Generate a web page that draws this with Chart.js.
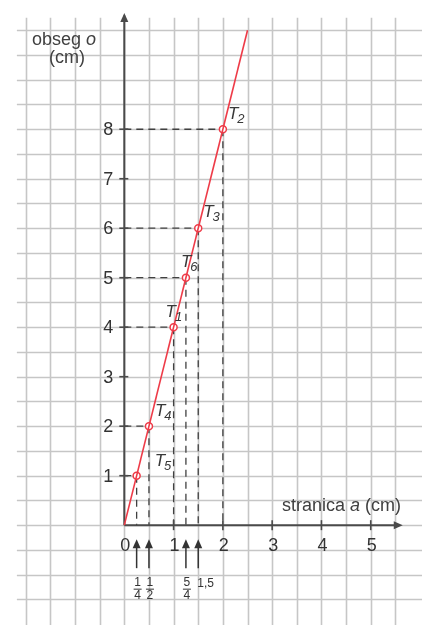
<!DOCTYPE html>
<html>
<head>
<meta charset="utf-8">
<script src="https://cdn.jsdelivr.net/npm/chart.js@4/dist/chart.umd.min.js"></script>
<style>
  html, body { margin: 0; padding: 0; background: #fff; }
  canvas { display: block; }
</style>
</head>
<body>
<canvas id="chart" width="422" height="625"></canvas>
<script>
// data
const sideA = [0.25, 0.5, 1, 1.25, 1.5, 2];
const perimeter = [1, 2, 4, 5, 6, 8];
const pointNames = ['5', '4', '1', '6', '3', '2'];
const lineA = [0, 2.5];
const lineO = [0, 10];
const xTicks = [0, 1, 2, 3, 4, 5];
const yTicks = [1, 2, 3, 4, 5, 6, 7, 8];
const arrowA = [0.25, 0.5, 1.25, 1.5];
const arrowLabels = [['1', '4'], ['1', '2'], ['5', '4'], ['1,5']];

// pixel offsets of the T labels from their points (same order as pointNames)
const labelOffsets = [[18, -10], [6, -10], [-8, -10], [-5, -11], [5, -11], [5, -10]];

const FONT = '"Liberation Sans", Arial, sans-serif';
const GRID = '#c6c6c6';
const AXIS = '#4a4a4a';
const TEXT = '#333333';

function arrowHead(ctx, x, y, dir) {
    // dir: 'up' or 'right'
    ctx.beginPath();
    if (dir === 'up') {
        ctx.moveTo(x, y);
        ctx.lineTo(x - 4, y + 9);
        ctx.lineTo(x + 4, y + 9);
    } else {
        ctx.moveTo(x, y);
        ctx.lineTo(x - 9, y - 4);
        ctx.lineTo(x - 9, y + 4);
    }
    ctx.closePath();
    ctx.fill();
}

const paperPlugin = {
    id: 'paper',
    beforeDatasetsDraw(chart) {
        const ctx = chart.ctx;
        const xs = chart.scales.x;
        const ys = chart.scales.y;
        const px = (v) => xs.getPixelForValue(v);
        const py = (v) => ys.getPixelForValue(v);

        ctx.save();

        // squared paper
        ctx.strokeStyle = GRID;
        ctx.lineWidth = 1.6;
        for (let a = -2; a <= 5.5; a += 0.5) {
            ctx.beginPath();
            ctx.moveTo(Math.round(px(a)) + 0.5, py(10.25));
            ctx.lineTo(Math.round(px(a)) + 0.5, chart.height);
            ctx.stroke();
        }
        for (let o = -1.5; o <= 10; o += 0.5) {
            ctx.beginPath();
            ctx.moveTo(px(-2.18), Math.round(py(o)) + 0.5);
            ctx.lineTo(chart.width, Math.round(py(o)) + 0.5);
            ctx.stroke();
        }

        // dashed guide lines
        ctx.strokeStyle = '#404040';
        ctx.lineWidth = 1.3;
        ctx.setLineDash([7, 5]);
        sideA.forEach((a, i) => {
            const o = perimeter[i];
            ctx.beginPath();
            ctx.moveTo(px(0), py(o));
            ctx.lineTo(px(a), py(o));
            ctx.stroke();
            ctx.beginPath();
            ctx.moveTo(px(a), py(o));
            ctx.lineTo(px(a), py(0));
            ctx.stroke();
        });
        ctx.setLineDash([]);

        // axes
        ctx.strokeStyle = AXIS;
        ctx.fillStyle = AXIS;
        ctx.lineWidth = 2;
        ctx.beginPath();
        ctx.moveTo(px(0), py(0));
        ctx.lineTo(px(0), py(10.3));
        ctx.stroke();
        arrowHead(ctx, px(0), py(10.35), 'up');
        ctx.beginPath();
        ctx.moveTo(px(0), py(0));
        ctx.lineTo(px(5.55), py(0));
        ctx.stroke();
        arrowHead(ctx, px(5.65), py(0), 'right');

        // ticks
        ctx.lineWidth = 1.6;
        yTicks.forEach((o) => {
            ctx.beginPath();
            ctx.moveTo(px(0) - 5, py(o));
            ctx.lineTo(px(0) + 4, py(o));
            ctx.stroke();
        });
        xTicks.slice(1).forEach((a) => {
            ctx.beginPath();
            ctx.moveTo(px(a), py(0) - 5);
            ctx.lineTo(px(a), py(0) + 5);
            ctx.stroke();
        });

        // tick labels
        ctx.fillStyle = TEXT;
        ctx.font = '18px ' + FONT;
        ctx.textAlign = 'right';
        ctx.textBaseline = 'middle';
        yTicks.forEach((o) => ctx.fillText(String(o), px(0) - 11, py(o) + 1));
        ctx.textAlign = 'center';
        ctx.textBaseline = 'top';
        xTicks.forEach((a) => ctx.fillText(String(a), px(a) + 1, py(0) + 12));

        // arrows under the a axis
        ctx.strokeStyle = '#333';
        ctx.fillStyle = '#333';
        ctx.lineWidth = 1.5;
        arrowA.forEach((a, i) => {
            const x = px(a);
            ctx.beginPath();
            ctx.moveTo(x, py(0) + 43);
            ctx.lineTo(x, py(0) + 20);
            ctx.stroke();
            arrowHead(ctx, x, py(0) + 14, 'up');

            const lab = arrowLabels[i];
            ctx.font = '12px ' + FONT;
            ctx.textBaseline = 'alphabetic';
            if (lab.length === 2) {
                ctx.textAlign = 'center';
                ctx.fillText(lab[0], x + 1, py(0) + 61);
                ctx.beginPath();
                ctx.lineWidth = 1;
                ctx.moveTo(x - 3, py(0) + 64);
                ctx.lineTo(x + 5, py(0) + 64);
                ctx.stroke();
                ctx.lineWidth = 1.5;
                ctx.fillText(lab[1], x + 1, py(0) + 74);
            } else {
                ctx.textAlign = 'left';
                ctx.fillText(lab[0], x - 1, py(0) + 62);
            }
        });

        // axis titles
        ctx.fillStyle = '#404040';
        ctx.font = '18px ' + FONT;
        ctx.textAlign = 'left';
        ctx.textBaseline = 'alphabetic';
        ctx.fillText('obseg ', 32, 45);
        let w = ctx.measureText('obseg ').width;
        ctx.font = 'italic 18px ' + FONT;
        ctx.fillText('o', 32 + w, 45);
        ctx.font = '18px ' + FONT;
        ctx.textAlign = 'center';
        ctx.fillText('(cm)', 67, 63);

        ctx.textAlign = 'left';
        ctx.fillText('stranica ', 282, 511);
        w = ctx.measureText('stranica ').width;
        ctx.font = 'italic 18px ' + FONT;
        ctx.fillText('a', 282 + w, 511);
        const w2 = ctx.measureText('a').width;
        ctx.font = '18px ' + FONT;
        ctx.fillText(' (cm)', 282 + w + w2, 511);

        ctx.restore();
    },
    afterDatasetsDraw(chart) {
        const ctx = chart.ctx;
        const xs = chart.scales.x;
        const ys = chart.scales.y;
        ctx.save();
        ctx.fillStyle = '#383838';
        ctx.textAlign = 'left';
        ctx.textBaseline = 'alphabetic';
        sideA.forEach((a, i) => {
            const x = xs.getPixelForValue(a) + labelOffsets[i][0];
            const y = ys.getPixelForValue(perimeter[i]) + labelOffsets[i][1];
            ctx.font = 'italic 17px ' + FONT;
            ctx.fillText('T', x, y);
            const tw = ctx.measureText('T').width;
            ctx.font = 'italic 13px ' + FONT;
            ctx.fillText(pointNames[i], x + tw - 1, y + 4);
        });
        ctx.restore();
    }
};

new Chart(document.getElementById('chart'), {
    type: 'scatter',
    data: {
        datasets: [
            {
                label: 'o = 4a',
                data: lineA.map((a, i) => ({ x: a, y: lineO[i] })),
                showLine: true,
                borderColor: '#ee3b48',
                borderWidth: 1.6,
                pointRadius: 0,
            },
            {
                label: 'T',
                data: sideA.map((a, i) => ({ x: a, y: perimeter[i] })),
                pointRadius: 3.5,
                pointBorderWidth: 1.5,
                pointBackgroundColor: '#ffffff',
                pointBorderColor: '#ee3b48',
            },
        ],
    },
    options: {
        responsive: false,
        animation: false,
        devicePixelRatio: 1,
        layout: { padding: 0 },
        scales: {
            x: { type: 'linear', min: -2.411, max: 5.929, display: false },
            y: { type: 'linear', min: -1.906, max: 10.5, display: false },
        },
        plugins: {
            legend: { display: false },
            tooltip: { enabled: false },
        },
    },
    plugins: [paperPlugin],
});
</script>
</body>
</html>
